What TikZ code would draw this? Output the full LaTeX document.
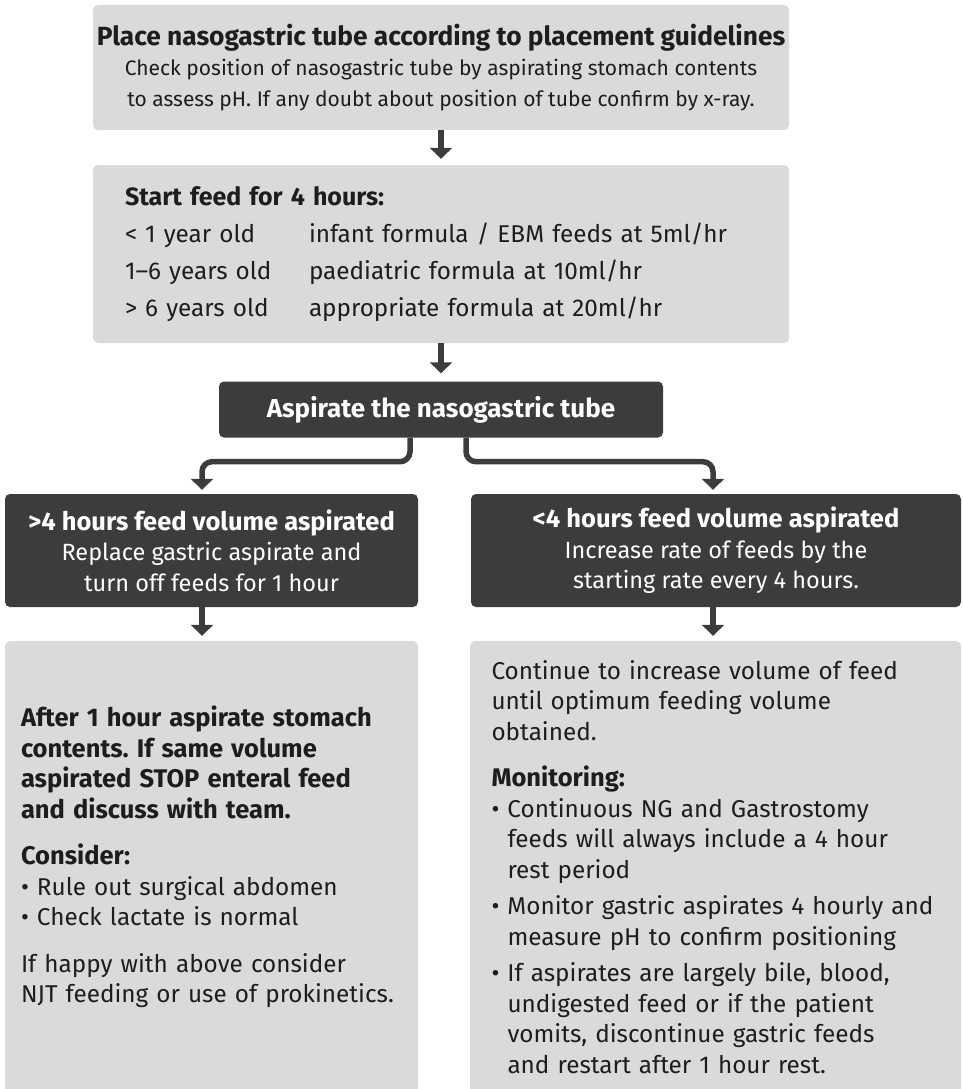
\documentclass[tikz,border=0pt]{standalone}
\usepackage{fontspec}
\setmainfont{Fira Sans}
\usetikzlibrary{arrows.meta,positioning}

\definecolor{boxgrey}{HTML}{DADADA}
\definecolor{boxdark}{HTML}{3C3C3B}
\definecolor{ink}{HTML}{1D1D1B}
\newcommand{\fdage}[1]{\makebox[184pt][l]{#1}}
\newcommand{\fdbullet}{\makebox[16pt][l]{\textbullet}}
\newcommand{\fdindent}{\hspace*{16pt}}
\newcommand{\fdhead}[1]{{\fontsize{25.5}{30.5}\selectfont\bfseries #1}}
\frenchspacing

\begin{document}
\begin{tikzpicture}[
  x=1pt, y=1pt,
  every node/.style={font=\fontsize{24.3}{30.5}\selectfont, text=ink},
  lightbox/.style={fill=boxgrey, rounded corners=5pt, inner sep=0pt},
  darkbox/.style={fill=boxdark, rounded corners=5pt, inner sep=0pt, text=white},
  flow/.style={draw=boxdark, line width=5.5pt, -{Triangle[width=22pt,length=11pt]},
    shorten >=5pt},
]
\useasboundingbox (0,0) rectangle (962,-1089);
% Top: placement of the tube
\node[lightbox, minimum width=696pt, minimum height=125pt, align=center,
  font=\fontsize{21}{30.5}\selectfont] (place) at (441,-67.5)
  {{\fontsize{26.3}{30.5}\selectfont\bfseries Place nasogastric tube according to placement guidelines}\\
   Check position of nasogastric tube by aspirating stomach contents\\
   to assess pH. If any doubt about position of tube confirm by x-ray.};
% Starting rates
\node[lightbox, minimum width=696pt, minimum height=178pt, text width=632pt, align=left,
  font=\fontsize{24.3}{37}\selectfont] (feed) at (441,-254)
  {{\fontsize{25}{37}\selectfont\bfseries Start feed for 4 hours:}\\
   \fdage{< 1 year old}infant formula / EBM feeds at 5ml/hr\\
   \fdage{1--6 years old}paediatric formula at 10ml/hr\\
   \fdage{> 6 years old}appropriate formula at 20ml/hr};
% Aspirate
\node[darkbox, minimum width=444pt, minimum height=56pt, font=\fontsize{26}{30.5}\selectfont\bfseries]
  (aspirate) at (441,-409.5) {Aspirate the nasogastric tube};
% Two outcomes
\node[darkbox, minimum width=413pt, minimum height=113pt, align=center,
  font=\fontsize{23.5}{30.5}\selectfont] (over) at (211.5,-550.5)
  {\fdhead{>4 hours feed volume aspirated}\\
   Replace gastric aspirate and\\
   turn off feeds for 1 hour};
\node[darkbox, minimum width=490pt, minimum height=113pt, align=center,
  font=\fontsize{23.5}{30.5}\selectfont] (under) at (716,-550.5)
  {\fdhead{<4 hours feed volume aspirated}\\
   Increase rate of feeds by the\\
   starting rate every 4 hours.};
% Follow-up
\node[lightbox, minimum width=413pt, minimum height=452pt] (stop) at (211.5,-867) {};
\node[text width=381pt, align=left, inner sep=0pt] (stoptext) at (211.5,-857)
  {\fdhead{After 1 hour aspirate stomach}\\
   \fdhead{contents. If same volume}\\
   \fdhead{aspirated STOP enteral feed}\\
   \fdhead{and discuss with team.}\\[16pt]
   \fdhead{Consider:}\\
   \fdbullet Rule out surgical abdomen\\
   \fdbullet Check lactate is normal\\[16pt]
   If happy with above consider\\
   NJT feeding or use of prokinetics.};
\node[lightbox, minimum width=491pt, minimum height=452pt, text width=448pt, align=left]
  (continue) at (715.5,-867)
  {Continue to increase volume of feed\\
   until optimum feeding volume\\
   obtained.\\[16pt]
   \fdhead{Monitoring:}\\
   \fdbullet Continuous NG and Gastrostomy\\
   \fdindent feeds will always include a 4 hour\\
   \fdindent rest period\\[6pt]
   \fdbullet Monitor gastric aspirates 4 hourly and\\
   \fdindent measure pH to confirm positioning\\[6pt]
   \fdbullet If aspirates are largely bile, blood,\\
   \fdindent undigested feed or if the patient\\
   \fdindent vomits, discontinue gastric feeds\\
   \fdindent and restart after 1 hour rest.};
% Connectors
\draw[flow, shorten >=6pt] (place.south) -- (feed.north);
\draw[flow, shorten >=8pt] (feed.south) -- (aspirate.north);
\draw[flow, shorten >=4pt, rounded corners=10pt] ([xshift=-31pt]aspirate.south) -- ++(0,-24pt)
  -| ([xshift=-9.5pt]over.north);
\draw[flow, shorten >=4pt, rounded corners=10pt] ([xshift=25pt]aspirate.south) -- ++(0,-24pt)
  -| ([xshift=-3pt]under.north);
\draw[flow] ([xshift=-9.5pt]over.south) -- ([xshift=-9.5pt]stop.north);
\draw[flow] ([xshift=-3pt]under.south) -- ([xshift=-2.5pt]continue.north);
\end{tikzpicture}
\end{document}
